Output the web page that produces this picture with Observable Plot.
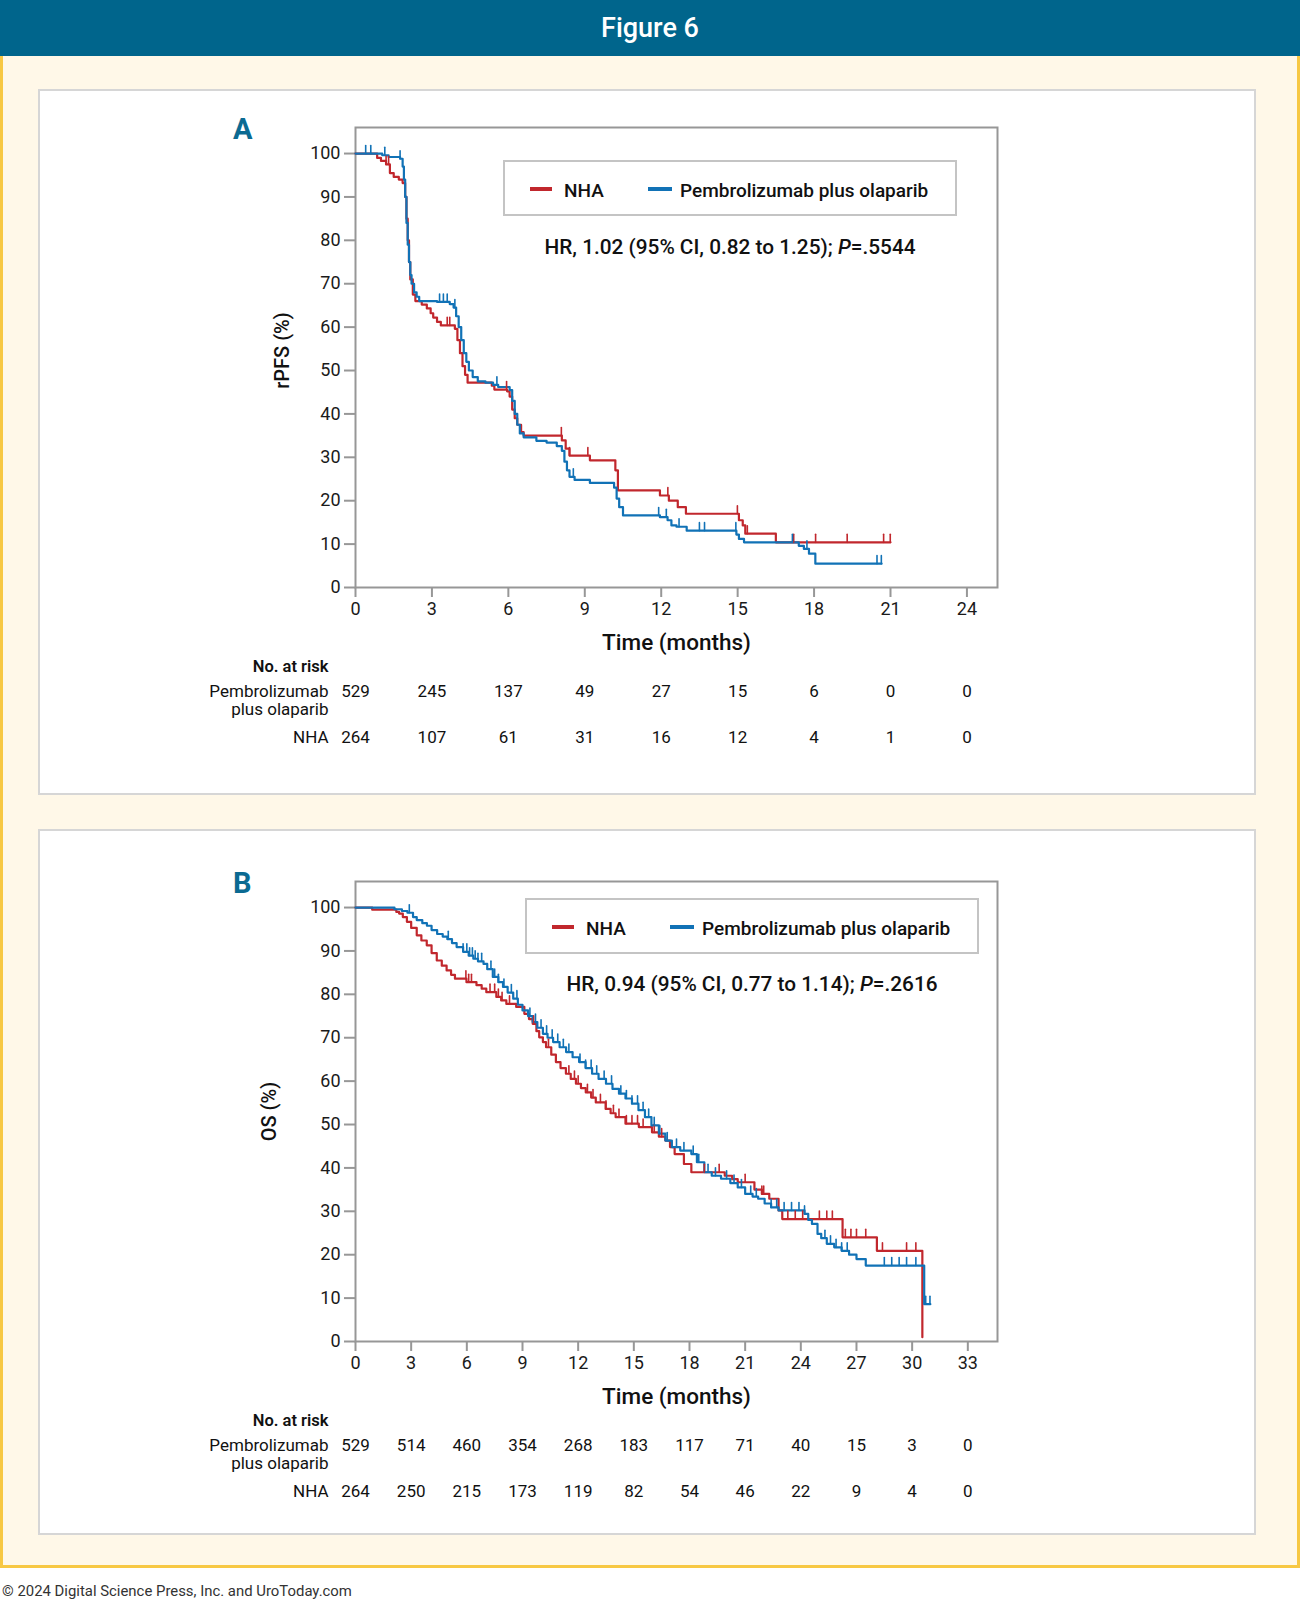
<!DOCTYPE html>
<html>
<head>
<meta charset="utf-8">
<script src="https://cdn.jsdelivr.net/npm/d3@7"></script>
<script src="https://cdn.jsdelivr.net/npm/@observablehq/plot@0.6"></script>
<style>
  html, body { margin: 0; padding: 0; }
  body { width: 1300px; height: 1603px; position: relative; background: #ffffff;
         font-family: Roboto, "Noto Sans", sans-serif; color: #1a1a1a; overflow: hidden; }
  .abs { position: absolute; }
  #header { left: 0; top: 0; width: 1300px; height: 56px; background: #00658c; }
  #header div { position: absolute; left: 0; width: 1300px; top: 28px; transform: translateY(-50%);
                text-align: center; color: #fff; font-size: 27px; font-weight: 500; }
  #sheet { left: 0; top: 56px; width: 1300px; height: 1512px; box-sizing: border-box;
           background: #fff8e8; border: 3px solid #f7c843; border-top: none; }
  .panel { left: 38px; width: 1218px; height: 706px; box-sizing: border-box;
           background: #fff; border: 2px solid #d6d6d6; }
  .letter { font-size: 29px; font-weight: 700; color: #0b6a92; transform: translateY(-50%); }
  .legend { box-sizing: border-box; border: 2px solid #c4c4c4; background: #fff; }
  .swatch { height: 4px; transform: translateY(-50%); }
  .ltext { font-size: 19px; font-weight: 500; transform: translateY(-50%); white-space: nowrap; color: #111; }
  .hr { font-size: 20.8px; font-weight: 500; transform: translate(-50%, -50%); white-space: nowrap; color: #111; }
  #footer { left: 2px; top: 1591px; transform: translateY(-50%); font-size: 14.9px; color: #333; white-space: nowrap; }
  svg { position: absolute; }
</style>
</head>
<body>
<div id="header" class="abs"><div>Figure 6</div></div>
<div id="sheet" class="abs"></div>
<div class="abs panel" style="top:89px"></div>
<div class="abs panel" style="top:829px"></div>
<div class="abs letter" style="left:233px; top:129px">A</div>
<div class="abs letter" style="left:233px; top:883px">B</div>
<div id="footer" class="abs">© 2024 Digital Science Press, Inc. and UroToday.com</div>

<script>
// ---- Series colours and labels ----
const seriesNames = ["NHA", "Pembrolizumab plus olaparib"];
const nhaColor = "#c1272d";
const pemColor = "#1172b6";

// ---- Panel A: radiographic progression-free survival, [month, survival %] steps ----
const rpfsPem = [[0,100],[1.05,99.6],[1.3,99.2],[1.75,98.8],[1.85,97],[1.9,94],[1.95,90],[2.0,84],[2.05,79],[2.1,75],[2.15,72],[2.2,70],[2.3,68],[2.4,67],[2.5,66],[3.2,65.8],[3.7,65.3],[3.85,64.5],[3.95,62.5],[4.05,60],[4.15,57],[4.25,54],[4.35,52],[4.45,50],[4.6,48.5],[4.8,47.5],[5.1,47.2],[5.4,46.7],[5.6,46.2],[6.05,45.5],[6.15,43],[6.25,40],[6.35,37.5],[6.45,35.5],[6.6,34.6],[7.1,33.8],[7.5,33.4],[7.9,32.6],[8.1,31.5],[8.2,29],[8.3,27],[8.4,25.5],[8.6,24.8],[9.2,24.1],[10.15,23],[10.25,20.5],[10.35,18.5],[10.5,16.6],[11.95,16.2],[12.25,15.5],[12.4,14.3],[12.6,14],[13.0,13.1],[14.95,12.2],[15.05,11.2],[15.25,10.4],[17.4,9.6],[17.6,8.9],[17.8,7.8],[18.05,5.5],[20.65,5.5]];
const rpfsNha = [[0,100],[0.85,99],[1.0,98.3],[1.2,97.5],[1.35,95.5],[1.5,94.6],[1.7,94],[1.85,93.2],[1.95,90],[2.0,85],[2.05,80],[2.1,75],[2.15,71],[2.25,67.5],[2.35,66],[2.6,65.2],[2.8,64.3],[2.95,63.2],[3.05,62.2],[3.2,61.2],[3.35,60.4],[3.9,59.6],[4.0,57],[4.1,54],[4.2,51],[4.3,49],[4.4,47.2],[5.35,46.5],[5.45,45.6],[5.95,45.2],[6.05,44],[6.15,41],[6.25,39],[6.35,37.5],[6.5,35.8],[6.6,35],[8.1,33.9],[8.25,32],[8.4,30.4],[9.2,29.3],[10.2,27],[10.3,22.4],[11.95,21.2],[12.3,20],[12.65,18.5],[12.97,17],[15.05,15.5],[15.2,14.3],[15.3,12.4],[16.5,10.4],[21.0,10.4]];
// censoring times (months)
const rpfsPemCensor = [0.4, 0.6, 1.15, 1.75, 3.3, 3.45, 3.6, 3.9, 5.55, 8.55, 11.9, 12.2, 12.7, 13.5, 13.7, 14.93, 17.15, 17.72, 20.47, 20.64];
const rpfsNhaCensor = [1.2, 1.3, 3.6, 3.7, 5.93, 8.08, 8.4, 9.12, 12.26, 14.99, 15.38, 17.2, 18.06, 19.3, 20.73, 20.99];
const rpfsTicks = [0, 3, 6, 9, 12, 15, 18, 21, 24];
const rpfsRiskPem = [529, 245, 137, 49, 27, 15, 6, 0, 0];
const rpfsRiskNha = [264, 107, 61, 31, 16, 12, 4, 1, 0];
const rpfsHR = "HR, 1.02 (95% CI, 0.82 to 1.25); ";
const rpfsP = ".5544";

// ---- Panel B: overall survival, [month, survival %] steps ----
const osPem = [[0,100],[2.1,99.6],[2.5,99.2],[2.8,98.8],[3.1,97.8],[3.3,97.1],[3.6,96.4],[3.85,95.8],[4.1,94.8],[4.4,93.9],[4.7,93.3],[4.95,92.7],[5.2,91.8],[5.45,90.9],[5.8,89.8],[6.1,88.9],[6.35,88.2],[6.6,87.6],[6.9,87.0],[7.1,85.8],[7.4,84.0],[7.7,82.8],[7.95,81.7],[8.2,80.4],[8.5,79.0],[8.75,77.6],[9.0,76.3],[9.3,75.0],[9.55,73.6],[9.8,72.3],[10.1,70.9],[10.35,70.0],[10.65,69.0],[11.0,67.8],[11.35,66.7],[11.7,65.5],[12.05,64.4],[12.4,63.0],[12.75,61.7],[13.1,60.5],[13.5,59.4],[13.85,58.2],[14.2,57.1],[14.55,56.0],[14.9,54.8],[15.25,53.3],[15.6,51.7],[15.95,49.8],[16.35,47.9],[16.7,46.3],[17.05,44.8],[17.5,44.0],[18.1,43.2],[18.4,41.3],[18.8,39.0],[19.2,38.2],[19.7,37.5],[20.2,36.5],[20.6,35.5],[21.0,34.0],[21.4,33.4],[21.7,32.9],[22.05,31.8],[22.4,30.9],[22.8,30.2],[24.2,29.4],[24.4,28.0],[24.6,27.1],[24.9,24.8],[25.1,23.8],[25.4,22.5],[25.8,21.7],[26.2,20.9],[26.6,20.0],[27.0,19.0],[27.5,17.5],[30.65,8.6],[30.98,8.6]];
const osNha = [[0,100],[0.9,99.5],[2.2,99.0],[2.35,98.6],[2.55,97.8],[2.77,96.7],[3.0,95.3],[3.3,93.6],[3.55,92.4],[3.84,91.3],[4.1,89.5],[4.38,87.8],[4.65,86.6],[4.91,85.5],[5.15,84.5],[5.36,83.6],[5.98,82.8],[6.52,82.1],[6.8,81.3],[7.05,80.5],[7.59,79.4],[7.85,78.6],[8.13,77.8],[8.66,77.1],[9.1,75.5],[9.35,74.3],[9.55,73.2],[9.75,71.5],[9.9,70.1],[10.1,69.0],[10.27,67.8],[10.55,66.1],[10.8,64.4],[11.05,63.0],[11.34,61.7],[11.6,60.5],[11.88,59.4],[12.15,58.4],[12.41,57.4],[12.7,56.2],[12.95,55.1],[13.48,53.6],[13.75,52.6],[14.02,51.7],[14.55,50.2],[15.27,49.4],[15.98,48.2],[16.35,47.2],[16.7,46.3],[16.95,44.8],[17.2,43.2],[17.7,40.9],[18.1,39.0],[19.9,38.2],[20.3,37.4],[20.6,36.7],[21.5,35.0],[21.9,34.0],[22.3,32.9],[22.8,30.2],[23.0,28.2],[26.25,24.0],[28.1,20.9],[30.55,1.0]];
const osPemCensor = [2.9, 5.0, 5.8, 6.0, 6.15, 6.3, 6.45, 6.6, 6.8, 7.3, 7.5, 7.7, 8.0, 8.4, 8.7, 9.4, 9.7, 10.0, 10.3, 10.6, 10.9, 11.2, 11.5, 12.1, 12.4, 12.7, 13.0, 13.4, 13.8, 14.3, 14.6, 14.9, 15.2, 15.5, 15.8, 16.1, 16.4, 16.8, 17.3, 17.7, 18.2, 18.5, 19.0, 19.4, 20.0, 20.4, 20.8, 21.3, 21.6, 22.4, 22.7, 23.1, 23.5, 23.9, 24.2, 25.3, 25.6, 25.9, 26.2, 26.5, 28.5, 28.9, 29.3, 29.7, 30.2, 30.73, 30.96];
const osNhaCensor = [5.95, 6.1, 6.25, 7.25, 7.5, 7.7, 7.9, 8.3, 9.6, 10.4, 11.5, 11.8, 12.0, 12.5, 12.8, 13.2, 13.5, 13.9, 14.2, 14.6, 14.9, 15.2, 15.5, 16.1, 16.5, 18.8, 19.6, 21.0, 21.9, 22.0, 23.3, 23.7, 24.1, 25.0, 25.4, 25.7, 26.4, 26.7, 27.0, 27.5, 28.4, 29.7, 30.2];
const osTicks = [0, 3, 6, 9, 12, 15, 18, 21, 24, 27, 30, 33];
const osRiskPem = [529, 514, 460, 354, 268, 183, 117, 71, 40, 15, 3, 0];
const osRiskNha = [264, 250, 215, 173, 119, 82, 54, 46, 22, 9, 4, 0];
const osHR = "HR, 0.94 (95% CI, 0.77 to 1.14); ";
const osP = ".2616";

const yTicks = [0, 10, 20, 30, 40, 50, 60, 70, 80, 90, 100];
const riskLabels = ["No. at risk", "Pembrolizumab", "plus olaparib", "NHA"];

// survival value of a step curve at time t
function survAt(curve, t) {
  let s = curve[0][1];
  for (const [ti, si] of curve) if (ti <= t) s = si;
  return s;
}
const toRows = (curve) => curve.map(([t, s]) => ({t, s}));
const censorRows = (curve, times) => times.map((t) => ({t, s: survAt(curve, t)}));

// a short upward stroke marking a censored observation
const censorShape = {draw(context, l) { context.moveTo(0, 0); context.lineTo(0, -l); }};

const gray = "#979797";

function kmPanel({pem, nha, pemCensor, nhaCensor, ticks, xMax, riskPem, riskNha, yLabel, yLabelDx, yLabelDy}) {
  const risk = (counts) => ticks.map((t, i) => ({t, n: String(counts[i])}));
  return Plot.plot({
    width: 1210,
    height: 670,
    marginLeft: 315,
    marginRight: 253,
    marginTop: 37,
    marginBottom: 173,
    style: {fontFamily: 'Roboto, "Noto Sans", sans-serif', fontSize: "18px", color: "#1a1a1a", background: "transparent", overflow: "visible"},
    x: {domain: [0, xMax]},
    y: {domain: [0, 106]},
    marks: [
      Plot.frame({stroke: gray, strokeWidth: 2}),
      Plot.axisY({ticks: yTicks, tickSize: 11, tickPadding: 4, stroke: gray, strokeWidth: 2, fill: "#1a1a1a", label: null}),
      Plot.axisX({ticks: ticks, tickSize: 10, tickPadding: 5, stroke: gray, strokeWidth: 2, fill: "#1a1a1a", label: null}),
      Plot.line(toRows(nha), {x: "t", y: "s", curve: "step-after", stroke: nhaColor, strokeWidth: 2.2}),
      Plot.line(toRows(pem), {x: "t", y: "s", curve: "step-after", stroke: pemColor, strokeWidth: 2.2}),
      Plot.vector(censorRows(nha, nhaCensor), {x: "t", y: "s", length: 8, anchor: "start", rotate: 0, shape: censorShape, stroke: nhaColor, strokeWidth: 1.6}),
      Plot.vector(censorRows(pem, pemCensor), {x: "t", y: "s", length: 8, anchor: "start", rotate: 0, shape: censorShape, stroke: pemColor, strokeWidth: 1.6}),
      // axis titles
      Plot.text([yLabel], {text: (d) => d, frameAnchor: "left", textAnchor: "middle", dx: yLabelDx, dy: yLabelDy, rotate: -90, fontSize: 20, fontWeight: 500, fill: "#111"}),
      Plot.text(["Time (months)"], {text: (d) => d, frameAnchor: "bottom", dy: 62, fontSize: 22.5, fontWeight: 500, fill: "#111"}),
      // number-at-risk table
      Plot.text([riskLabels[0]], {text: (d) => d, frameAnchor: "bottom-left", dx: -27, dy: 84, textAnchor: "end", fontSize: 16.5, fontWeight: 600, fill: "#111"}),
      Plot.text([riskLabels[1]], {text: (d) => d, frameAnchor: "bottom-left", dx: -27, dy: 109, textAnchor: "end", fontSize: 17, fill: "#111"}),
      Plot.text([riskLabels[2]], {text: (d) => d, frameAnchor: "bottom-left", dx: -27, dy: 127, textAnchor: "end", fontSize: 17, fill: "#111"}),
      Plot.text([riskLabels[3]], {text: (d) => d, frameAnchor: "bottom-left", dx: -27, dy: 155, textAnchor: "end", fontSize: 17, fill: "#111"}),
      Plot.text(risk(riskPem), {x: "t", text: "n", frameAnchor: "bottom", dy: 109, fontSize: 17, fill: "#111"}),
      Plot.text(risk(riskNha), {x: "t", text: "n", frameAnchor: "bottom", dy: 155, fontSize: 17, fill: "#111"})
    ]
  });
}

function place(el, left, top) {
  el.style.left = left + "px";
  el.style.top = top + "px";
  document.body.appendChild(el);
}

function legendBlock(left, top, hrText, pText, hrCenterX, hrCenterY) {
  const box = document.createElement("div");
  box.className = "abs legend";
  box.style.width = "454px";
  box.style.height = "56px";
  place(box, left, top);
  const cy = top + 30;
  const items = [
    {name: seriesNames[0], color: nhaColor, sx: 27, sw: 22, tx: 61},
    {name: seriesNames[1], color: pemColor, sx: 145, sw: 24, tx: 177}
  ];
  for (const it of items) {
    const sw = document.createElement("div");
    sw.className = "abs swatch";
    sw.style.width = it.sw + "px";
    sw.style.background = it.color;
    place(sw, left + it.sx, cy - 1);
    const tx = document.createElement("div");
    tx.className = "abs ltext";
    tx.textContent = it.name;
    place(tx, left + it.tx, cy);
  }
  const hr = document.createElement("div");
  hr.className = "abs hr";
  hr.innerHTML = hrText + "<i>P</i>=" + pText;
  place(hr, hrCenterX, hrCenterY);
}

const svgA = kmPanel({pem: rpfsPem, nha: rpfsNha, pemCensor: rpfsPemCensor, nhaCensor: rpfsNhaCensor,
  ticks: rpfsTicks, xMax: 25.2, riskPem: rpfsRiskPem, riskNha: rpfsRiskNha, yLabel: "rPFS (%)", yLabelDx: -73, yLabelDy: -7});
svgA.style.left = "40px"; svgA.style.top = "90px";
document.body.appendChild(svgA);

const svgB = kmPanel({pem: osPem, nha: osNha, pemCensor: osPemCensor, nhaCensor: osNhaCensor,
  ticks: osTicks, xMax: 34.6, riskPem: osRiskPem, riskNha: osRiskNha, yLabel: "OS (%)", yLabelDx: -86, yLabelDy: 0});
svgB.style.left = "40px"; svgB.style.top = "844px";
document.body.appendChild(svgB);

legendBlock(503, 160, rpfsHR, rpfsP, 730, 247);
legendBlock(525, 898, osHR, osP, 752, 984);
</script>
</body>
</html>
